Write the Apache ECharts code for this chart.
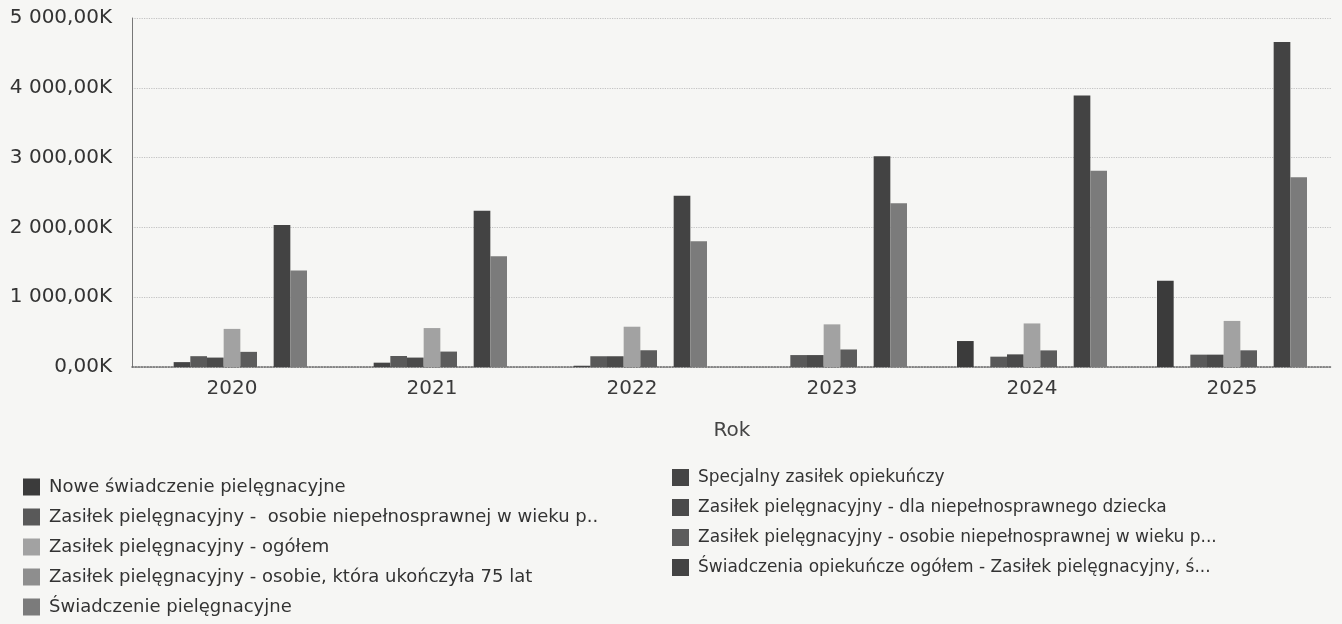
<!DOCTYPE html>
<html>
<head>
<meta charset="utf-8">
<script src="https://cdn.jsdelivr.net/npm/echarts@6/dist/echarts.min.js"></script>
<style>
html,body{margin:0;padding:0;background:#f6f6f4;}
#chart{width:1342px;height:624px;}
</style>
</head>
<body>
<div id="chart"></div>
<script>
// Categories (Rok)
const years = ['2020', '2021', '2022', '2023', '2024', '2025'];

// Series names (as shown in the legend)
const nameNowe = 'Nowe świadczenie pielęgnacyjne';
const nameSpecjalny = 'Specjalny zasiłek opiekuńczy';
const nameZasilekA = 'Zasiłek pielęgnacyjny -  osobie niepełnosprawnej w wieku p..';
const nameDziecko = 'Zasiłek pielęgnacyjny - dla niepełnosprawnego dziecka';
const nameOgolem = 'Zasiłek pielęgnacyjny - ogółem';
const nameZasilekB = 'Zasiłek pielęgnacyjny - osobie niepełnosprawnej w wieku p...';
const name75 = 'Zasiłek pielęgnacyjny - osobie, która ukończyła 75 lat';
const nameOpiekuncze = 'Świadczenia opiekuńcze ogółem - Zasiłek pielęgnacyjny, ś...';
const namePielegnacyjne = 'Świadczenie pielęgnacyjne';

// Values in thousands (K)
const nowe = [0, 0, 0, 0, 372, 1234];
const specjalny = [70, 62, 18, 0, 0, 0];
const zasilekA = [155, 158, 154, 171, 148, 177];
const dziecko = [135, 135, 154, 171, 181, 177];
const ogolem = [546, 558, 577, 611, 624, 660];
const zasilekB = [217, 221, 240, 251, 238, 239];
const lat75 = [0, 0, 0, 0, 0, 0];
const opiekuncze = [2034, 2240, 2452, 3020, 3890, 4655];
const pielegnacyjne = [1382, 1587, 1803, 2346, 2810, 2718];

// Y axis ticks
const yTicks = [0, 1000, 2000, 3000, 4000, 5000];

const seriesDefs = [
  [nameNowe, nowe, '#3b3b3b'],
  [nameSpecjalny, specjalny, '#454545'],
  [nameZasilekA, zasilekA, '#595959'],
  [nameDziecko, dziecko, '#4a4a4a'],
  [nameOgolem, ogolem, '#a2a2a2'],
  [nameZasilekB, zasilekB, '#5c5c5c'],
  [name75, lat75, '#8e8e8e'],
  [nameOpiekuncze, opiekuncze, '#434343'],
  [namePielegnacyjne, pielegnacyjne, '#7b7b7b']
];

function fmtK(v) {
  const s = String(Math.round(v)).replace(/\B(?=(\d{3})+(?!\d))/g, ' ');
  return s + ',00K';
}

const FONT = 'DejaVu Sans';
const chart = echarts.init(document.getElementById('chart'));
chart.setOption({
  backgroundColor: '#f6f6f4',
  animation: false,
  textStyle: { fontFamily: FONT },
  grid: { left: 132, right: 10, top: 18, bottom: 257, containLabel: false },
  legend: [
    {
      orient: 'vertical', left: 23, top: 478, height: 146, padding: 0,
      itemWidth: 17, itemHeight: 17, itemGap: 12,
      icon: 'rect',
      data: [nameNowe, nameZasilekA, nameOgolem, name75, namePielegnacyjne],
      textStyle: { fontFamily: FONT, fontSize: 18, lineHeight: 17, color: '#333', padding: [0, 0, 0, 4] }
    },
    {
      orient: 'vertical', left: 672, top: 469, height: 150, padding: 0,
      itemWidth: 17, itemHeight: 17, itemGap: 13,
      icon: 'rect',
      data: [nameSpecjalny, nameDziecko, nameZasilekB, nameOpiekuncze],
      textStyle: { fontFamily: FONT, fontSize: 17, lineHeight: 17, color: '#333', padding: [0, 0, 0, 4] }
    }
  ],
  xAxis: {
    type: 'category',
    data: years,
    name: 'Rok',
    nameLocation: 'middle',
    nameGap: 54,
    nameTextStyle: { fontFamily: FONT, fontSize: 20, color: '#444' },
    axisLine: { show: true, lineStyle: { color: '#666', type: 'dotted', width: 1.5 } },
    axisTick: { show: false },
    axisLabel: { fontFamily: FONT, fontSize: 20, color: '#3a3a3a', margin: 12 }
  },
  yAxis: {
    type: 'value',
    min: yTicks[0],
    max: yTicks[yTicks.length - 1],
    interval: 1000,
    axisLine: { show: true, lineStyle: { color: '#777', width: 1 } },
    axisTick: { show: false },
    splitLine: { show: true, lineStyle: { color: '#c2c2c2', type: 'dotted', width: 1.2 } },
    axisLabel: { fontFamily: FONT, fontSize: 20, color: '#333', margin: 20, formatter: fmtK }
  },
  series: seriesDefs.map(d => ({
    name: d[0],
    type: 'bar',
    data: d[1],
    barGap: '0%',
    barCategoryGap: '25%',
    itemStyle: { color: d[2] }
  }))
});
</script>
</body>
</html>
